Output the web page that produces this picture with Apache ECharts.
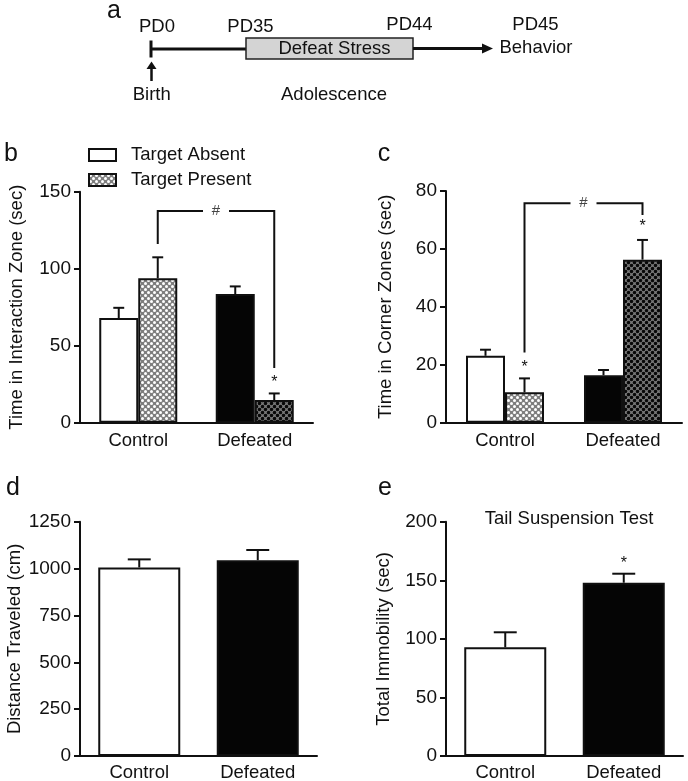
<!DOCTYPE html>
<html><head><meta charset="utf-8">
<script src="https://cdn.jsdelivr.net/npm/echarts@6/dist/echarts.min.js"></script>
<style>html,body{margin:0;padding:0;background:#fff}#c{width:688px;height:781px}</style>
</head><body><div id="c"></div>
<script>
// ---------- data ----------
const categories = ['Control', 'Defeated'];
const seriesNames = ['Target Absent', 'Target Present'];

// panel b: Time in Interaction Zone (sec)
const bAbsent = [68, 83.5];
const bAbsentSem = [6.6, 5.0];
const bPresent = [93.8, 14.7];
const bPresentSem = [13.6, 4.3];
const bAxis = [0, 150, 50];

// panel c: Time in Corner Zones (sec)
const cAbsent = [23.1, 16.4];
const cAbsentSem = [2.1, 1.8];
const cPresent = [10.5, 56.3];
const cPresentSem = [4.8, 6.8];
const cAxis = [0, 80, 20];

// panel d: Distance Traveled (cm)
const dDistance = [1006, 1045];
const dSem = [43, 54];
const dAxis = [0, 1250, 250];

// panel e: Total Immobility (sec)
const eImmobility = [92.8, 147.9];
const eSem = [12.8, 7.7];
const eAxis = [0, 200, 50];

// annotations: [categoryIndex, seriesIndex, value]
const bBracket = [[0, 1, 116], [0, 1, 137.5], [1, 1, 137.5], [1, 1, 35.5]];
const cBracket = [[0, 1, 24.2], [0, 1, 75.8], [1, 1, 75.8], [1, 1, 71.7]];
const bStars = [[1, 1, 28.4]];
const cStars = [[0, 1, 20.3], [1, 1, 69]];
const eStars = [[1, 0, 167.3]];

// timeline texts
const timelineDays = ['PD0', 'PD35', 'PD44', 'PD45'];
const timelineNotes = ['Birth', 'Adolescence', 'Defeat Stress', 'Behavior'];

// ---------- styles ----------
const FONT = '"Liberation Sans", Arial, Helvetica, sans-serif';
const INK = '#101010';
const TXT = '#111111';
const FS = 18.5;

function dotPattern(bg, dot, r) {
  const c = document.createElement('canvas');
  c.width = 6; c.height = 6;
  const g = c.getContext('2d');
  g.fillStyle = bg; g.fillRect(0, 0, 6, 6);
  g.fillStyle = dot;
  [[1.5, 1.5], [4.5, 4.5], [-1.5, 4.5], [7.5, 1.5], [1.5, 7.5], [4.5, -1.5]].forEach(p => { g.beginPath(); g.arc(p[0], p[1], r, 0, Math.PI * 2); g.fill(); });
  return { image: c, repeat: 'repeat' };
}
const lightHatch = dotPattern('#7e7e7e', '#ffffff', 1.5);
const darkHatch = dotPattern('#7a7a7a', '#080808', 1.75);
const WHITE = '#ffffff', BLACK = '#050505';

const grids = [
  { left: 80, top: 191.7, width: 233, height: 231 },
  { left: 446, top: 191, width: 236, height: 231.7 },
  { left: 80, top: 521.7, width: 237, height: 234.3 },
  { left: 446, top: 521.7, width: 237, height: 234.3 }
];

function xAx(gi, margin) {
  return {
    type: 'category', gridIndex: gi, data: categories,
    axisLine: { show: true, lineStyle: { color: INK, width: 2 } },
    axisTick: { show: false },
    axisLabel: { fontSize: FS, color: TXT, margin: margin, fontFamily: FONT },
    splitLine: { show: false }
  };
}
function yAx(gi, ax, name, gap) {
  return {
    type: 'value', gridIndex: gi, min: ax[0], max: ax[1], interval: ax[2],
    axisLine: { show: true, lineStyle: { color: INK, width: 2 } },
    axisTick: { show: true, length: 6, lineStyle: { color: INK, width: 2 } },
    axisLabel: { fontSize: 19, color: TXT, margin: 9, fontFamily: FONT, formatter: v => String(v) },
    splitLine: { show: false },
    name: name, nameLocation: 'middle', nameGap: gap,
    nameTextStyle: { fontSize: FS, color: TXT, fontFamily: FONT }
  };
}
function bar(name, gi, values, colors, bw) {
  return {
    type: 'bar', name: name, xAxisIndex: gi, yAxisIndex: gi,
    barWidth: bw, barGap: '0%', z: 2,
    itemStyle: { color: colors[0], borderColor: INK, borderWidth: 2 },
    emphasis: { disabled: true },
    data: values.map((v, i) => ({ value: v, itemStyle: { color: colors[i], borderColor: INK, borderWidth: 2 } }))
  };
}
function errBars(gi, means, sems, sIdx, nS, bw) {
  return {
    type: 'custom', xAxisIndex: gi, yAxisIndex: gi, z: 4, silent: true, clip: false,
    encode: { x: 0, y: [1, 2] },
    data: means.map((m, i) => [i, m, m + sems[i]]),
    renderItem: function (params, api) {
      const p0 = api.coord([api.value(0), api.value(1)]);
      const p1 = api.coord([api.value(0), api.value(2)]);
      const cx = p0[0] + (sIdx - (nS - 1) / 2) * bw;
      const cap = bw * 0.28;
      const st = { stroke: INK, lineWidth: 2 };
      return { type: 'group', children: [
        { type: 'line', shape: { x1: cx, y1: p0[1], x2: cx, y2: p1[1] }, style: st },
        { type: 'line', shape: { x1: cx - cap / 2, y1: p1[1], x2: cx + cap / 2, y2: p1[1] }, style: st }
      ] };
    }
  };
}
function bracket(gi, pts, nS, bw, gapHalf) {
  return {
    type: 'custom', xAxisIndex: gi, yAxisIndex: gi, z: 5, silent: true, clip: false,
    encode: { x: 0, y: 1 },
    data: [[pts[1][0], pts[1][2]]],
    renderItem: function (params, api) {
      const P = pts.map(p => { const c = api.coord([p[0], p[2]]); return [c[0] + (p[1] - (nS - 1) / 2) * bw, c[1]]; });
      const mid = (P[1][0] + P[2][0]) / 2;
      const st = { stroke: INK, lineWidth: 2, fill: null };
      return { type: 'group', children: [
        { type: 'polyline', shape: { points: [P[0], P[1], [mid - gapHalf, P[1][1]]] }, style: st },
        { type: 'polyline', shape: { points: [[mid + gapHalf, P[2][1]], P[2], P[3]] }, style: st },
        { type: 'text', x: mid, y: P[1][1], style: { text: '#', fontSize: 15, fontFamily: FONT, fill: '#444', align: 'center', verticalAlign: 'middle' } }
      ] };
    }
  };
}
function stars(gi, pts, nS, bw) {
  return {
    type: 'custom', xAxisIndex: gi, yAxisIndex: gi, z: 5, silent: true, clip: false,
    encode: { x: 0, y: 2 },
    data: pts,
    renderItem: function (params, api) {
      const c = api.coord([api.value(0), api.value(2)]);
      const x = c[0] + (api.value(1) - (nS - 1) / 2) * bw;
      return { type: 'text', x: x, y: c[1] + 4, style: { text: '*', fontSize: 16, fontFamily: FONT, fill: INK, align: 'center', verticalAlign: 'middle' } };
    }
  };
}

function txt(s, x, y, size, align) {
  return { type: 'text', x: x, y: y, style: { text: s, fontSize: size, fontFamily: FONT, fill: TXT, align: align || 'center', verticalAlign: 'middle' } };
}
const lineSt = { stroke: INK, lineWidth: 3 };
const graphic = [
  // panel letters
  txt('a', 114, 11, 25), txt('b', 11, 154, 25), txt('c', 384, 154, 25), txt('d', 13, 488, 25), txt('e', 385, 488, 25),
  // timeline
  txt(timelineDays[0], 157, 27, FS), txt(timelineDays[1], 250.5, 27, FS),
  txt(timelineDays[2], 409.5, 25, FS), txt(timelineDays[3], 535.5, 25, FS),
  { type: 'line', shape: { x1: 151, y1: 49, x2: 246, y2: 49 }, style: lineSt },
  { type: 'line', shape: { x1: 151, y1: 40.5, x2: 151, y2: 57.5 }, style: lineSt },
  { type: 'rect', shape: { x: 246, y: 38, width: 167, height: 21 }, style: { fill: '#d4d4d4', stroke: '#222', lineWidth: 1.5 } },
  txt(timelineNotes[2], 334.5, 49, FS),
  { type: 'line', shape: { x1: 413, y1: 48.5, x2: 484, y2: 48.5 }, style: lineSt },
  { type: 'polygon', shape: { points: [[482, 43.5], [493, 48.5], [482, 53.5]] }, style: { fill: INK } },
  txt(timelineNotes[3], 536, 47.5, FS),
  { type: 'line', shape: { x1: 151.5, y1: 81, x2: 151.5, y2: 67 }, style: { stroke: INK, lineWidth: 2.5 } },
  { type: 'polygon', shape: { points: [[146.5, 69], [151.5, 61.5], [156.5, 69]] }, style: { fill: INK } },
  txt(timelineNotes[0], 151.7, 95, FS), txt(timelineNotes[1], 334, 95, FS),
  // panel e title
  txt('Tail Suspension Test', 569, 518.5, FS)
];

const option = {
  animation: false,
  textStyle: { fontFamily: FONT },
  grid: grids.map(g => Object.assign({ containLabel: false, outerBoundsMode: 'none' }, g)),
  xAxis: [xAx(0, 9), xAx(1, 9), xAx(2, 7), xAx(3, 7)],
  yAxis: [
    yAx(0, bAxis, 'Time in Interaction Zone (sec)', 54),
    yAx(1, cAxis, 'Time in Corner Zones (sec)', 51),
    yAx(2, dAxis, 'Distance Traveled (cm)', 56),
    yAx(3, eAxis, 'Total Immobility (sec)', 53)
  ],
  legend: {
    data: seriesNames, orient: 'vertical', left: 83, top: 140.5, padding: 5,
    itemWidth: 27, itemHeight: 12, itemGap: 6, icon: 'rect', selectedMode: false,
    textStyle: { fontSize: FS, color: TXT, fontFamily: FONT, padding: [0, 0, 0, 10] }
  },
  graphic: graphic,
  series: [
    bar(seriesNames[0], 0, bAbsent, [WHITE, BLACK], 39),
    bar(seriesNames[1], 0, bPresent, [lightHatch, darkHatch], 39),
    errBars(0, bAbsent, bAbsentSem, 0, 2, 39),
    errBars(0, bPresent, bPresentSem, 1, 2, 39),
    bracket(0, bBracket, 2, 39, 13),
    stars(0, bStars, 2, 39),

    bar(seriesNames[0], 1, cAbsent, [WHITE, BLACK], 39),
    bar(seriesNames[1], 1, cPresent, [lightHatch, darkHatch], 39),
    errBars(1, cAbsent, cAbsentSem, 0, 2, 39),
    errBars(1, cPresent, cPresentSem, 1, 2, 39),
    bracket(1, cBracket, 2, 39, 13),
    stars(1, cStars, 2, 39),

    bar('Distance', 2, dDistance, [WHITE, BLACK], 82),
    errBars(2, dDistance, dSem, 0, 1, 82),

    bar('Immobility', 3, eImmobility, [WHITE, BLACK], 82),
    errBars(3, eImmobility, eSem, 0, 1, 82),
    stars(3, eStars, 1, 82)
  ]
};
const chart = echarts.init(document.getElementById('c'), null, { renderer: 'canvas' });
chart.setOption(option);
</script>
</body></html>
